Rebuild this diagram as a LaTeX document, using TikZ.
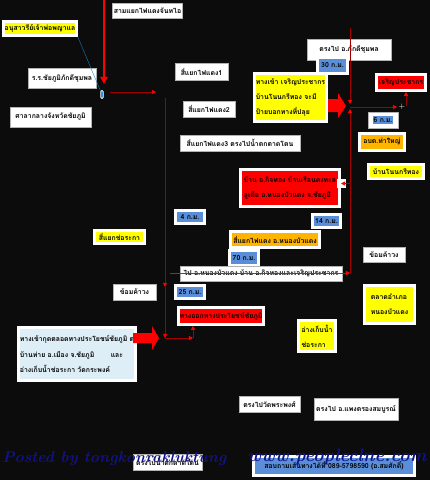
\documentclass[tikz,border=0pt]{standalone}
\usepackage{fontspec}
\usetikzlibrary{arrows.meta}
\newfontfamily\thai[Script=Thai]{Loma}
\definecolor{map-bg}{HTML}{0C0C0C}
\definecolor{sign-yellow}{HTML}{FFFF00}
\definecolor{sign-red}{HTML}{FF0000}
\definecolor{sign-orange}{HTML}{FFB400}
\definecolor{sign-blue}{HTML}{5B8ED8}
\definecolor{sign-pale}{HTML}{DDEEF6}
\definecolor{road-red}{HTML}{A00000}
\definecolor{mark-navy}{HTML}{12128A}

\begin{document}
\begin{tikzpicture}[x=0.3mm, y=-0.3mm,
      every node/.style={font=\thai\bfseries\fontsize{5.9}{13}\selectfont, inner sep=1pt},
      sz/.style 2 args={minimum width=#1*0.3mm, minimum height=#2*0.3mm},
      plate/.style={fill=white, draw=gray!60, line width=0.4pt},
      tag/.style={fill=#1, draw=white, line width=2.2pt},
      road/.style={road-red, line width=0.6pt},
      tip/.style={-{Triangle[length=3.5pt, width=3.5pt, color=sign-red]}}]
    \fill[map-bg] (0,0) rectangle (430,480);
    \useasboundingbox (0,0) rectangle (430,480);
    % left side of the town
    \node[plate, sz={69}{15}] (junction) at (147.5,10.5) {สามแยกไฟแดงจันทไอ};
    \node[tag=sign-yellow, sz={73}{14}] (monument) at (40,28.5) {อนุสาวรีย์เจ้าพ่อพญาแล};
    \node[plate, sz={68}{20}] (school) at (62,78) {ร.ร.ชัยภูมิภักดีชุมพล};
    \node[plate, sz={81}{20}] (cityhall) at (50.5,117) {ศาลากลางจังหวัดชัยภูมิ};
    \node[fill=cyan!70!blue, draw=white, line width=0.6pt, rounded corners=1pt,
          sz={2.5}{8}, inner sep=0pt] (here) at (102,94.5) {};
    \draw[cyan!70!blue, line width=0.3pt] (monument.south east) -- (here);
    \coordinate (topin) at (104,0);
    \coordinate (topend) at (104,84);
    \draw[sign-red, line width=2.4pt, -{Triangle[length=6pt, width=6pt]}] (topin) -- (topend);
    \coordinate (eastout) at (110,92);
    \coordinate (eastend) at (156,92);
    \draw[road, tip] (eastout) -- (eastend);
    % traffic lights
    \node[plate, sz={53}{17}] (light1) at (201.5,71.5) {สี่แยกไฟแดง1};
    \node[plate, sz={52}{16}] (light2) at (209,109) {สี่แยกไฟแดง2};
    \node[plate, sz={120}{16}] (light3) at (240,143) {สี่แยกไฟแดง3 ตรงไปน้ำตกตาดโตน};
    % north-east
    \node[plate, sz={84}{21}] (phakdi) at (349,49.5) {ตรงไป อ.ภักดีชุมพล};
    \node[tag=sign-blue, sz={30}{16}] (km30) at (332.5,65.5) {30 ก.ม.};
    \node[tag=sign-yellow, sz={72}{48}, align=left] (turnin) at (290.5,97.5)
          {ทางเข้า เจริญประชากร\\บ้านโนนกรีทอง จะมี\\ป้ายบอกทางที่ปลุย};
    \fill[sign-red] (328,99) -- (338,99) -- (338,93) -- (346,106) -- (338,118)
          -- (338,112) -- (328,112) -- cycle;
    \node[tag=sign-red, sz={49}{16}] (prosper) at (401,82.5) {เจริญประชากร};
    \node[plate, sz={30}{16}] (km6) at (383,120) {};
    \node[tag=sign-blue, sz={23}{10}] at (km6) {6 ก.ม.};
    \node[tag=sign-orange, sz={45}{17}] (tambon) at (382,142) {อบต.ท่าใหญ่};
    \node[tag=sign-yellow, sz={55}{14}] (village) at (396,171.5) {บ้านโนนกรีทอง};
    \node[tag=sign-red, sz={99}{37}, align=left] (kitthong) at (290,188)
          {บ้าน อ.กิจทอง บ้านเรือนดงทะล\\ลูเดือ อ.หนองบัวแดง จ.ชัยภูมิ};
    \node[fill=white, sz={9}{9}, inner sep=0pt] (gate) at (341,183.5) {};
    \node[tag=sign-blue, sz={28}{13}] (km14) at (326.5,221) {14 ก.ม.};
    \node[tag=sign-orange, sz={89}{16}] (light4) at (275,239.5) {สี่แยกไฟแดง อ.หนองบัวแดง};
    \node[tag=sign-blue, sz={29}{15}] (km70) at (244,258) {70 ก.ม.};
    \node[plate, sz={162}{15}] (tonongbua) at (261,273.5)
          {ไป อ.หนองบัวแดง บ้าน อ.กิจทองและเจริญประชากร};
    % road on the east
    \coordinate (rtop) at (350,28);
    \coordinate (rjoin) at (350,104);
    \coordinate (rsplit) at (350,107);
    \coordinate (rup) at (350,109);
    \coordinate (rbot) at (350,273);
    \coordinate (rturn) at (397,107);
    \coordinate (rfork) at (406,106);
    \draw[road, tip] (rtop) -- (rjoin);
    \draw[road, tip] (rbot) -- (rup);
    \draw[road, tip] (rsplit) -- (rturn);
    \node[text=white, font=\fontsize{6}{6}\selectfont, inner sep=0pt] (cross) at (402,107) {+};
    \draw[road, tip] (rfork) -- (prosper.south -| rfork);
    \draw[road, tip] (gate.east -| rbot) -- (gate.center);
    \coordinate (midwest) at (170,273);
    \draw[sign-red, line width=0.5pt, tip] (midwest) -- (rbot);
    % road on the west
    \node[tag=sign-blue, sz={29}{13}] (km4) at (190,217) {4 ก.ม.};
    \node[tag=sign-yellow, sz={50}{13}] (chorakha) at (119.5,237) {สี่แยกช่อระกา};
    \node[plate, sz={43}{16}] (bend1) at (134.5,292) {ข้อมค้าวง};
    \node[tag=sign-blue, sz={29}{13}] (km25) at (190,292) {25 ก.ม.};
    \node[tag=sign-red, sz={79}{17}] (exit) at (221,316) {ทางออกทางประโยชน์ชัยภูมิ};
    \node[plate, sz={42}{15}] (bend2) at (384,254.5) {ข้อมค้าวง};
    \node[tag=sign-yellow, sz={50}{38}, align=left] (market) at (389.5,304.5)
          {ตลาดอำเภอ\\หนองบัวแดง};
    \node[tag=sign-pale, draw=white, sz={109}{53}, align=left] (entry) at (77,354)
          {ทางเข้ากุดตลอดทางประโยชน์ชัยภูมิ ต\\บ้านท่าย อ.เมือง จ.ชัยภูมิ\hspace{14pt}และ\\อ่างเก็บน้ำช่อระกา วัดกระพงค์};
    \fill[sign-red] (133,333) -- (152,333) -- (152,326) -- (159,338) -- (152,350)
          -- (152,343) -- (133,343) -- cycle;
    \coordinate (trunktop) at (165,98);
    \coordinate (trunkmid) at (165,287);
    \coordinate (trunkbot) at (165,338);
    \coordinate (bendA) at (193,338);
    \draw[road, tip] (trunktop) -- (trunkmid);
    \draw[road, tip] (trunkmid) -- (trunkbot);
    \draw[road, tip] (trunkbot) -- (bendA);
    \draw[road, tip] (bendA) -- (exit.south -| bendA);
    \node[tag=sign-yellow, sz={37}{31}, align=left] (reservoir) at (317,336)
          {อ่างเก็บน้ำ\\ช่อระกา};
    % south
    \node[plate, sz={61}{16}] (temple) at (269.5,404) {ตรงไปวัดพระพงศ์};
    \node[plate, sz={84}{22}] (district) at (356,409) {ตรงไป อ.แพงตรองสมบูรณ์};
    \node[plate, sz={69}{16}] (falls) at (167.5,462) {ตรงไปน้ำตกตาดโตน};
    \node[tag=sign-blue, sz={161}{19}] (contact) at (334,466)
          {สอบถามเส้นทางได้ที่ 089-5798590 (อ.สมศักดิ์)};
    % watermark
    \node[text=mark-navy, anchor=west, font=\fontsize{13.3}{13.3}\selectfont\bfseries\itshape]
          (credit) at (1,459) {Posted by tongkonrakluktung};
    \node[text=mark-navy, anchor=west, font=\fontsize{15.3}{15.3}\selectfont\bfseries\itshape]
          (site) at (246,457) {www.peopleclne.com};
  \end{tikzpicture}
\end{document}
